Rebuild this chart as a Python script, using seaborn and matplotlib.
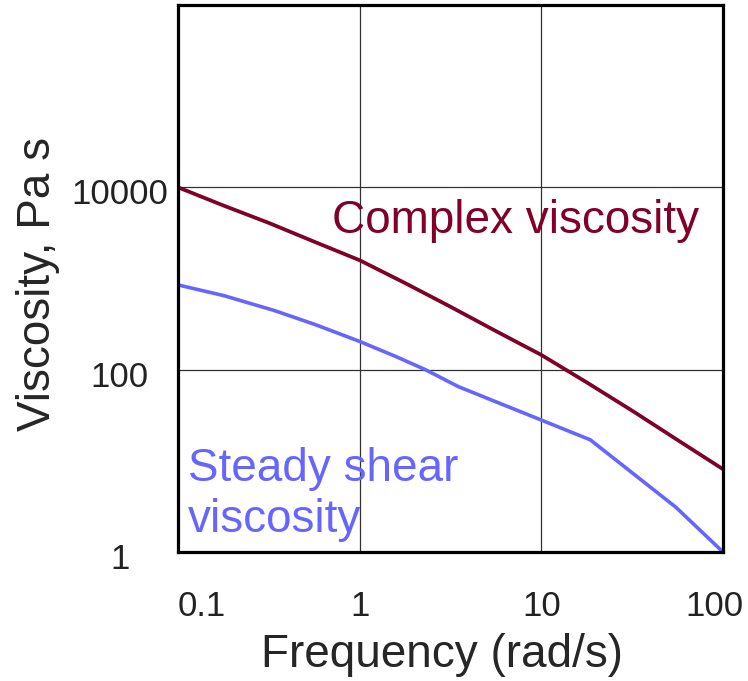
import pandas as pd
import seaborn as sns
from matplotlib import pyplot as plt
from matplotlib import transforms

# complex viscosity (Pa s) vs frequency (rad/s)
complex_freq = [0.1, 0.178, 0.316, 0.56, 1, 1.78, 3.16, 5.6, 10, 17.8, 31.6, 56, 100]
complex_visc = [10000, 6310, 4070, 2540, 1585, 890, 490, 266, 145, 72.4, 35.5, 17, 8.1]

# steady shear viscosity
steady_freq = [0.1, 0.178, 0.337, 0.56, 1, 1.6, 2.3, 3.5, 10, 18.6, 55, 100]
steady_visc = [850, 650, 447, 316, 204, 138, 100, 65, 28, 17, 3.1, 1]

x_ticks = [0.1, 1, 10, 100]
x_tick_labels = ["0.1", "1", "10", "100"]
y_ticks = [1, 100, 10000]
y_tick_labels = ["1", "100", "10000"]

red = "#800028"
blue = "#6666ff"

sns.set_style("white")
plt.rcParams["font.family"] = ["Liberation Sans", "DejaVu Sans"]

df_complex = pd.DataFrame({"frequency": complex_freq, "viscosity": complex_visc})
df_steady = pd.DataFrame({"frequency": steady_freq, "viscosity": steady_visc})

fig = plt.figure(figsize=(7.48, 6.81), dpi=100)
ax = fig.add_axes([0.238, 0.1894, 0.7286, 0.8033])

sns.lineplot(data=df_complex, x="frequency", y="viscosity", ax=ax, color=red, linewidth=2.7)
sns.lineplot(data=df_steady, x="frequency", y="viscosity", ax=ax, color=blue, linewidth=2.6)

ax.set_xscale("log")
ax.set_yscale("log")
ax.set_xlim(0.1, 100)
ax.set_ylim(1.08, 1e6)

ax.set_xticks(x_ticks)
ax.set_xticklabels(x_tick_labels)
ax.set_yticks(y_ticks)
ax.set_yticklabels(y_tick_labels)
ax.minorticks_off()
ax.tick_params(axis="both", length=0, labelsize=25, colors="#222222")
ax.tick_params(axis="y", pad=42)
ax.tick_params(axis="x", pad=27)
for lbl in ax.get_yticklabels():
    lbl.set_ha("center")
    lbl.set_transform(lbl.get_transform() + transforms.ScaledTranslation(0, -4 / 100, fig.dpi_scale_trans))
xl = ax.get_xticklabels()
xl[0].set_ha("left")
xl[-1].set_ha("right")
xl[-1].set_transform(xl[-1].get_transform() + transforms.ScaledTranslation(20 / 100, 0, fig.dpi_scale_trans))

ax.grid(True, color="#333333", linewidth=0.9)
for s in ax.spines.values():
    s.set_color("black")
    s.set_linewidth(2.3)

ax.set_xlabel("Frequency (rad/s)", fontsize=33)
ax.xaxis.set_label_coords(0.484, -0.148)
ax.set_ylabel("Viscosity, Pa s", fontsize=33)
ax.yaxis.set_label_coords(-0.216, 0.49)

ax.text(0.282, 0.584, "Complex viscosity", transform=ax.transAxes, color=red,
        fontsize=33, va="baseline", ha="left")
ax.text(0.018, 0.0366, "Steady shear\nviscosity", transform=ax.transAxes, color=blue,
        fontsize=33, va="baseline", ha="left", linespacing=1.22)

plt.savefig("out.png", dpi=100)
plt.close()
